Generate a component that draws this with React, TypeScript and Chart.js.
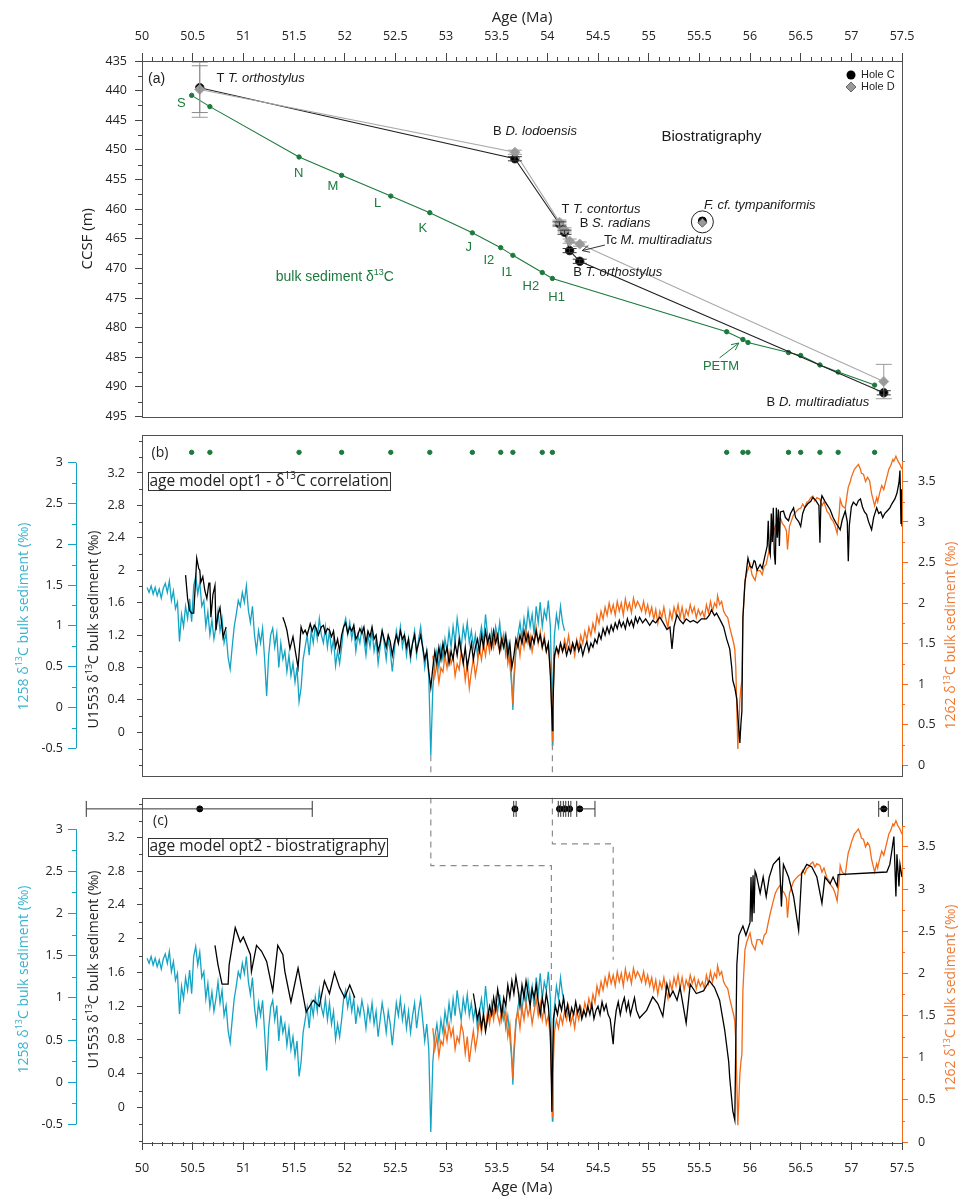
import { useEffect, useRef } from "react";
import { Chart, registerables } from "chart.js";

Chart.register(...registerables);

const SANS = "'Open Sans', 'Noto Sans', sans-serif";
const ARIAL = "'Liberation Sans', Arial, sans-serif";
const FRAME = "#505050";
const CYAN = "#13a4c4";
const CYAN_T = "#3ab3cd";
const ORANGE = "#f36a17";
const ORANGE_T = "#ef7a33";
const GREEN = "#1c7a3d";
const GREY_D = "#9a9a9a";

// ---------------- axis ticks ----------------
const ageTicks = [50, 50.5, 51, 51.5, 52, 52.5, 53, 53.5, 54, 54.5, 55, 55.5, 56, 56.5, 57, 57.5];
const ageMinor: number[] = [];
for (let i = 0; i <= 75; i++) { if (i % 5 !== 0) ageMinor.push(50 + i / 10); }
const depthTicks = [435, 440, 445, 450, 455, 460, 465, 470, 475, 480, 485, 490, 495];
const depthMinor = [437.5, 442.5, 447.5, 452.5, 457.5, 462.5, 467.5, 472.5, 477.5, 482.5, 487.5, 492.5];
const u1553Ticks = [0, 0.4, 0.8, 1.2, 1.6, 2, 2.4, 2.8, 3.2];
const u1553Minor = [-0.4, -0.2, 0.2, 0.6, 1, 1.4, 1.8, 2.2, 2.6, 3, 3.4, 3.6];
const s1258Ticks = [-0.5, 0, 0.5, 1, 1.5, 2, 2.5, 3];
const s1258Minor = [-0.25, 0.25, 0.75, 1.25, 1.75, 2.25, 2.75];
const s1262Ticks = [0, 0.5, 1, 1.5, 2, 2.5, 3, 3.5];
const s1262Minor = [0.25, 0.75, 1.25, 1.75, 2.25, 2.75, 3.25, 3.75];

// ---------------- panel (a) biostratigraphy ----------------
const bioAges = [50.57, 53.68, 54.12, 54.17, 54.22, 54.32, 57.32];
const holeCDepth = [439.5, 451.5, 462.5, 463.9, 467.0, 468.8, 491.0];
const holeDDepth = [439.8, 450.4, 462.2, 463.5, 465.4, 465.9, 489.1];
const holeCDepthRange = [[435.8, 443.7], [451.15, 451.85], [462.15, 462.85], [463.55, 464.25], [466.65, 467.35], [468.45, 469.15], [490.65, 491.35]];
const holeDDepthRange = [[435.2, 444.5], [450.05, 450.75], [461.85, 462.55], [463.15, 463.85], [465.05, 465.75], [465.55, 466.25], [486.2, 492.0]];
const bioAgeErrLo = [1.12, 0.012, 0.012, 0.012, 0.012, 0.03, 0.05];
const bioAgeErrHi = [1.11, 0.012, 0.012, 0.012, 0.012, 0.15, 0.045];
const tympAge = [55.53];
const tympDepthC = [462.0];
const tympDepthD = [462.3];

const tieAges = [50.49, 50.67, 51.55, 51.97, 52.455, 52.84, 53.26, 53.54, 53.66, 53.95, 54.05, 55.77, 55.93, 55.98, 56.38, 56.5, 56.69, 56.87, 57.23];
const tieDepths = [440.8, 442.7, 451.2, 454.3, 457.8, 460.6, 464.0, 466.5, 467.8, 470.7, 471.7, 480.7, 482.0, 482.5, 484.2, 484.7, 486.3, 487.5, 489.7];
const tieNames = ["S", "N", "M", "L", "K", "J", "I2", "I1", "H2", "H1"];
const tieNameAge = [50.389, 51.547, 51.883, 52.324, 52.771, 53.225, 53.423, 53.6, 53.837, 54.091];
const tieNameDepth = [442.18, 453.99, 456.13, 459.04, 463.25, 466.54, 468.68, 470.66, 473.04, 474.95];

const bioLabels = [
  { age: 50.734, depth: 438.0, pre: "T ", name: "T. orthostylus" },
  { age: 53.465, depth: 446.96, pre: "B ", name: "D. lodoensis" },
  { age: 54.14, depth: 460.03, pre: "T ", name: "T. contortus" },
  { age: 54.32, depth: 462.44, pre: "B ", name: "S. radians" },
  { age: 54.558, depth: 465.24, pre: "Tc ", name: "M. multiradiatus" },
  { age: 54.255, depth: 470.74, pre: "B ", name: "T. orthostylus" },
  { age: 55.545, depth: 459.31, pre: "", name: "F. cf. tympaniformis" },
  { age: 56.164, depth: 492.69, pre: "B ", name: "D. multiradiatus" },
];

// ---------------- panels (b),(c) δ13C series ----------------
const site1258: [number, number][] = [
  [50.05,1.47],[50.07,1.41],[50.09,1.49],[50.11,1.39],[50.13,1.47],[50.15,1.37],[50.17,1.45],[50.19,1.34],[50.21,1.46],[50.23,1.52],
  [50.25,1.41],[50.27,1.55],[50.29,1.31],[50.31,1.43],[50.33,1.21],[50.35,1.29],[50.37,0.81],[50.39,1.14],[50.41,0.99],[50.43,1.24],
  [50.45,1.09],[50.47,1.33],[50.49,1.05],[50.51,1.49],[50.53,1.61],[50.55,1.39],[50.57,1.54],[50.59,1.24],[50.61,1.31],[50.63,0.99],
  [50.65,1.17],[50.67,0.89],[50.69,1.07],[50.71,0.84],[50.73,0.99],[50.75,1.19],[50.77,0.94],[50.79,1.09],[50.81,0.79],[50.83,0.91],
  [50.85,0.61],[50.87,0.47],[50.89,0.74],[50.91,0.99],[50.93,1.14],[50.95,1.31],[50.97,1.24],[50.99,1.41],[51.01,1.29],[51.03,1.49],
  [51.05,1.19],[51.07,1.04],[51.09,1.24],[51.11,0.89],[51.13,0.69],[51.15,0.94],[51.17,0.79],[51.19,0.97],[51.21,0.59],[51.23,0.14],
  [51.25,0.64],[51.27,0.89],[51.29,0.97],[51.31,0.74],[51.33,0.91],[51.35,0.49],[51.37,0.79],[51.39,0.59],[51.41,0.69],[51.43,0.44],
  [51.45,0.64],[51.47,0.39],[51.49,0.54],[51.51,0.31],[51.53,0.49],[51.55,0.07],[51.57,0.24],[51.59,0.59],[51.61,0.74],[51.63,0.89],
  [51.65,0.64],[51.67,0.94],[51.69,0.79],[51.71,1.01],[51.73,0.84],[51.75,1.09],[51.77,0.89],[51.79,0.79],[51.81,0.99],[51.83,0.74],
  [51.85,0.94],[51.87,0.69],[51.89,0.84],[51.91,0.51],[51.93,0.69],[51.95,0.54],[51.97,0.74],[51.99,0.99],[52.01,1.09],[52.03,0.89],
  [52.05,1.04],[52.07,0.84],[52.09,0.99],[52.11,0.69],[52.13,0.89],[52.15,0.79],[52.17,0.97],[52.19,0.84],[52.21,0.64],[52.23,0.89],
  [52.25,0.74],[52.27,0.94],[52.29,0.69],[52.31,0.84],[52.33,0.54],[52.35,0.74],[52.37,0.94],[52.39,0.79],[52.41,0.59],[52.43,0.84],
  [52.45,0.69],[52.47,0.44],[52.49,0.69],[52.51,0.94],[52.53,0.79],[52.55,0.99],[52.57,0.74],[52.59,0.89],[52.61,0.64],[52.63,0.84],
  [52.65,0.59],[52.67,0.79],[52.69,0.94],[52.71,0.64],[52.73,0.84],[52.75,0.99],[52.77,0.74],[52.79,0.49],[52.81,0.69],[52.83,0.39],
  [52.85,-0.59],[52.87,0.24],[52.89,0.54],[52.91,0.69],[52.93,0.49],[52.95,0.74],[52.97,0.59],[52.99,0.84],[53.01,0.69],[53.03,0.94],
  [53.05,0.74],[53.07,0.99],[53.09,0.79],[53.11,1.09],[53.13,0.89],[53.15,0.74],[53.17,0.99],[53.19,0.84],[53.21,1.04],[53.23,0.79],
  [53.25,0.94],[53.27,0.74],[53.29,0.89],[53.31,0.64],[53.33,0.84],[53.35,0.99],[53.37,0.79],[53.39,1.14],[53.41,0.89],[53.43,0.74],
  [53.45,0.94],[53.47,0.79],[53.49,0.99],[53.51,0.84],[53.53,1.04],[53.55,0.74],[53.57,0.89],[53.59,0.64],[53.61,0.79],[53.63,0.54],
  [53.65,0.24],[53.66,-0.03],[53.67,0.29],[53.69,0.69],[53.71,0.89],[53.73,1.04],[53.75,0.84],[53.77,1.09],[53.79,0.94],[53.81,1.19],
  [53.83,0.99],[53.85,1.14],[53.87,0.89],[53.89,1.24],[53.91,1.04],[53.93,1.29],[53.95,0.99],[53.97,1.19],[53.99,1.09],[54.01,1.31],
  [54.03,0.99],[54.045,0.19],[54.05,-0.46],[54.055,0.29],[54.07,0.89],[54.09,1.14],[54.11,0.99],[54.13,1.24],[54.15,1.04],[54.17,0.94],
];

const site1262: [number, number][] = [
  [52.87,1.35],[52.89,1.10],[52.91,1.25],[52.93,1.02],[52.95,1.20],[52.97,1.15],[52.99,1.35],[53.01,1.20],[53.03,1.40],[53.05,1.25],
  [53.07,1.35],[53.09,1.10],[53.11,1.25],[53.13,1.18],[53.15,1.40],[53.17,1.30],[53.19,1.05],[53.21,1.25],[53.23,0.95],[53.25,1.15],
  [53.27,1.32],[53.29,1.10],[53.31,1.25],[53.33,1.45],[53.35,1.30],[53.37,1.50],[53.39,1.35],[53.41,1.55],[53.43,1.40],[53.45,1.60],
  [53.47,1.45],[53.49,1.65],[53.51,1.50],[53.53,1.40],[53.55,1.60],[53.57,1.45],[53.59,1.55],[53.61,1.25],[53.63,1.40],[53.65,1.00],
  [53.66,0.75],[53.67,1.10],[53.69,1.45],[53.71,1.55],[53.73,1.35],[53.75,1.60],[53.77,1.45],[53.79,1.65],[53.81,1.50],[53.83,1.60],
  [53.85,1.40],[53.87,1.55],[53.89,1.70],[53.91,1.50],[53.93,1.65],[53.95,1.45],[53.97,1.60],[53.99,1.40],[54.01,1.50],[54.03,1.20],
  [54.045,0.60],[54.05,0.30],[54.055,0.80],[54.07,1.30],[54.09,1.45],[54.11,1.35],[54.13,1.50],[54.15,1.40],[54.17,1.55],[54.19,1.45],
  [54.21,1.60],[54.23,1.40],[54.25,1.50],[54.27,1.35],[54.29,1.55],[54.31,1.45],[54.33,1.60],[54.35,1.50],[54.37,1.65],[54.39,1.55],
  [54.41,1.70],[54.43,1.60],[54.45,1.75],[54.47,1.65],[54.49,1.85],[54.51,1.75],[54.53,1.90],[54.55,1.80],[54.57,1.95],[54.59,1.85],
  [54.61,2.00],[54.63,1.88],[54.65,1.98],[54.67,1.85],[54.69,2.02],[54.71,1.90],[54.73,2.00],[54.75,1.85],[54.77,2.05],[54.79,1.92],
  [54.81,2.00],[54.83,1.88],[54.85,2.06],[54.87,1.95],[54.89,2.02],[54.91,1.97],[54.93,1.90],[54.95,2.02],[54.97,1.88],[54.99,1.98],
  [55.01,1.85],[55.03,1.95],[55.05,1.80],[55.07,1.92],[55.09,1.75],[55.11,1.90],[55.13,1.82],[55.15,1.95],[55.17,1.80],[55.19,1.70],
  [55.21,1.90],[55.23,1.80],[55.25,1.95],[55.27,1.85],[55.29,1.98],[55.31,1.82],[55.33,1.95],[55.35,1.80],[55.37,1.92],[55.39,1.85],
  [55.41,1.98],[55.43,1.88],[55.45,1.95],[55.47,1.82],[55.49,1.92],[55.51,1.85],[55.53,1.90],[55.55,1.82],[55.57,1.98],[55.59,1.88],
  [55.61,2.02],[55.63,1.90],[55.65,2.00],[55.67,1.95],[55.68,2.09],[55.70,1.98],[55.72,2.02],[55.74,1.90],[55.76,1.85],[55.78,1.82],
  [55.80,1.70],[55.82,1.60],[55.84,1.50],[55.85,1.43],[55.86,1.20],[55.87,0.70],[55.88,0.20],[55.89,0.50],[55.90,0.80],[55.91,0.95],
  [55.92,1.04],[55.93,1.80],[55.95,2.28],[55.97,2.38],[56.00,2.48],[56.02,2.35],[56.05,2.28],[56.07,2.40],[56.10,2.40],[56.12,2.35],
  [56.14,2.45],[56.16,2.48],[56.18,2.60],[56.20,2.71],[56.23,2.86],[56.25,2.95],[56.27,3.00],[56.30,3.05],[56.32,2.98],[56.34,2.95],
  [56.36,2.89],[56.37,2.66],[56.39,2.95],[56.41,3.02],[56.43,3.09],[56.45,3.12],[56.48,3.16],[56.50,3.17],[56.52,3.22],[56.54,3.18],
  [56.56,3.24],[56.58,3.26],[56.60,3.30],[56.62,3.32],[56.64,3.26],[56.66,3.30],[56.69,3.28],[56.71,3.20],[56.73,3.25],[56.76,3.13],
  [56.78,3.10],[56.80,3.04],[56.82,3.01],[56.84,2.95],[56.86,2.86],[56.88,3.10],[56.89,3.28],[56.91,3.20],[56.94,3.17],[56.96,3.35],
  [56.97,3.43],[56.99,3.50],[57.00,3.55],[57.03,3.65],[57.05,3.68],[57.07,3.71],[57.09,3.65],[57.10,3.60],[57.12,3.59],[57.14,3.50],
  [57.16,3.55],[57.18,3.51],[57.20,3.35],[57.22,3.25],[57.23,3.20],[57.25,3.30],[57.26,3.25],[57.28,3.36],[57.30,3.45],[57.32,3.40],
  [57.35,3.55],[57.37,3.65],[57.39,3.70],[57.41,3.77],[57.42,3.75],[57.44,3.81],[57.46,3.75],[57.48,3.71],[57.50,3.65],
];

// U1553, age model opt1 (δ13C correlation)
const u1553Opt1A: [number, number][] = [
  [50.43,1.94],[50.45,1.65],[50.47,1.50],[50.49,1.47],[50.51,1.47],[50.53,1.90],[50.54,2.15],[50.56,2.02],[50.57,2.00],[50.58,1.85],
  [50.60,1.92],[50.62,1.75],[50.64,1.65],[50.66,1.84],[50.67,1.84],[50.68,1.42],[50.70,1.70],[50.72,1.81],[50.73,1.26],[50.75,1.45],
  [50.77,1.54],[50.80,1.17],[50.83,1.30],
];
const u1553Opt1B: [number, number][] = [
  [51.39,1.42],[51.41,1.35],[51.43,1.26],[51.46,1.03],[51.49,1.18],[51.52,0.95],[51.54,0.80],[51.57,1.30],[51.59,1.22],[51.61,1.26],
  [51.63,1.20],[51.66,1.34],[51.68,1.25],[51.70,1.32],[51.72,1.28],[51.74,1.20],[51.77,1.30],[51.79,1.32],[51.81,1.22],[51.83,1.28],
  [51.85,1.26],[51.87,1.18],[51.89,1.25],[51.91,1.05],[51.93,1.15],[51.95,1.00],[51.97,1.20],[51.99,1.30],[52.01,1.35],[52.03,1.22],
  [52.05,1.30],[52.07,1.25],[52.09,1.32],[52.11,1.15],[52.13,1.20],[52.15,1.28],[52.17,1.22],[52.19,1.30],[52.21,1.10],[52.23,1.25],
  [52.25,1.18],[52.27,1.30],[52.29,1.15],[52.31,1.20],[52.33,1.00],[52.35,1.10],[52.37,1.25],[52.39,1.15],[52.41,1.05],[52.43,1.20],
  [52.45,1.12],[52.47,0.95],[52.49,1.10],[52.51,1.20],[52.53,1.10],[52.55,1.25],[52.57,1.15],[52.59,1.20],[52.61,1.05],[52.63,1.15],
  [52.65,0.95],[52.67,1.10],[52.69,1.20],[52.71,1.00],[52.73,1.10],[52.75,1.20],[52.77,1.05],[52.79,0.90],[52.81,1.00],[52.83,0.75],
  [52.85,0.55],[52.87,0.80],[52.89,1.00],[52.91,0.85],[52.93,1.05],[52.95,0.90],[52.97,1.10],[52.99,0.95],[53.01,1.05],[53.03,0.85],
  [53.05,1.00],[53.07,0.90],[53.09,1.10],[53.11,0.95],[53.13,1.15],[53.15,1.00],[53.17,0.85],[53.19,1.05],[53.21,0.80],[53.23,0.95],
  [53.25,1.10],[53.27,0.90],[53.29,1.05],[53.31,1.15],[53.33,1.00],[53.35,1.20],[53.37,1.05],[53.39,1.25],[53.41,1.10],[53.43,1.20],
  [53.45,1.05],[53.47,1.25],[53.49,1.10],[53.51,1.20],[53.53,1.00],[53.55,1.15],[53.57,1.05],[53.59,1.20],[53.61,0.95],[53.63,1.10],
  [53.65,0.80],[53.67,0.95],[53.69,1.15],[53.71,1.05],[53.73,1.20],[53.75,1.10],[53.77,1.25],[53.79,1.12],[53.81,1.22],[53.83,1.05],
  [53.85,1.18],[53.87,1.10],[53.89,1.25],[53.91,1.12],[53.93,1.20],[53.95,1.05],[53.97,1.15],[53.99,1.00],[54.01,1.10],[54.03,0.70],
  [54.045,0.20],[54.05,0.02],[54.055,0.30],[54.07,0.95],[54.09,1.05],[54.11,0.98],[54.13,1.10],[54.15,1.00],[54.17,1.08],[54.19,0.95],
  [54.21,1.05],[54.23,0.98],[54.25,1.10],[54.27,1.02],[54.29,1.12],[54.31,1.00],[54.33,1.08],[54.35,0.95],[54.37,1.05],[54.39,1.12],
  [54.41,1.00],[54.43,1.10],[54.45,1.05],[54.47,1.15],[54.49,1.10],[54.51,1.22],[54.53,1.15],[54.55,1.28],[54.57,1.20],[54.59,1.30],
  [54.61,1.22],[54.63,1.32],[54.65,1.25],[54.67,1.35],[54.69,1.28],[54.71,1.38],[54.73,1.30],[54.75,1.36],[54.77,1.28],[54.79,1.40],
  [54.81,1.32],[54.83,1.38],[54.85,1.30],[54.87,1.42],[54.89,1.35],[54.91,1.42],[54.94,1.35],[54.97,1.40],[55.01,1.32],[55.04,1.38],
  [55.07,1.35],[55.11,1.42],[55.14,1.36],[55.18,1.27],[55.21,1.30],[55.23,1.03],[55.25,1.30],[55.28,1.45],[55.31,1.38],[55.34,1.34],
  [55.37,1.40],[55.41,1.36],[55.44,1.38],[55.48,1.35],[55.52,1.40],[55.57,1.40],[55.60,1.45],[55.62,1.51],[55.65,1.44],[55.67,1.47],
  [55.70,1.40],[55.72,1.35],[55.74,1.30],[55.77,1.15],[55.80,1.03],[55.82,0.80],[55.83,0.64],[55.85,0.55],[55.87,0.41],[55.88,0.20],
  [55.90,-0.13],[55.91,0.10],[55.92,0.26],[55.93,1.42],[55.95,1.84],[55.98,2.15],[56.00,2.05],[56.02,2.03],[56.04,2.12],[56.05,2.11],
  [56.07,2.00],[56.10,2.07],[56.12,2.02],[56.15,2.19],[56.17,2.30],[56.18,2.61],[56.19,2.25],[56.20,2.19],[56.21,2.70],[56.22,2.35],
  [56.23,2.77],[56.24,2.20],[56.25,2.07],[56.26,2.77],[56.27,2.40],[56.28,2.75],[56.29,2.30],[56.30,2.72],[56.33,2.73],[56.35,2.65],
  [56.38,2.61],[56.40,2.70],[56.43,2.77],[56.45,2.65],[56.48,2.60],[56.50,2.54],[56.52,2.70],[56.54,2.77],[56.57,2.82],[56.60,2.85],
  [56.62,2.90],[56.65,2.86],[56.68,2.80],[56.69,2.34],[56.70,2.85],[56.71,2.92],[56.74,2.85],[56.76,2.81],[56.79,2.75],[56.82,2.65],
  [56.85,2.58],[56.89,2.50],[56.91,2.62],[56.94,2.73],[56.96,2.60],[56.97,2.11],[56.98,2.55],[57.00,2.78],[57.02,2.84],[57.05,2.80],
  [57.07,2.86],[57.09,2.88],[57.11,2.78],[57.13,2.72],[57.15,2.69],[57.17,2.60],[57.20,2.50],[57.22,2.65],[57.25,2.77],[57.27,2.70],
  [57.29,2.72],[57.31,2.65],[57.33,2.70],[57.36,2.74],[57.38,2.77],[57.40,2.82],[57.43,2.88],[57.45,2.95],[57.47,3.08],[57.48,3.23],
  [57.49,2.57],[57.495,3.0],[57.50,2.54],
];

// U1553, age model opt2 (biostratigraphy)
const u1553Opt2A: [number, number][] = [
  [50.72,1.92],[50.75,1.69],[50.79,1.46],[50.85,1.46],[50.86,1.69],[50.92,2.13],[50.97,1.96],[51.00,2.02],[51.07,1.81],[51.08,1.61],
  [51.13,1.92],[51.18,1.85],[51.23,1.73],[51.29,1.38],[51.34,1.92],[51.39,1.81],[51.41,1.61],[51.47,1.25],[51.54,1.65],[51.62,1.13],
  [51.69,1.27],[51.75,1.20],[51.80,1.50],[51.85,1.35],[51.90,1.60],[51.95,1.42],[52.00,1.30],[52.05,1.45],[52.10,1.30],
];
const u1553Opt2B: [number, number][] = [
  [53.27,1.35],[53.29,1.20],[53.31,1.05],[53.33,1.15],[53.35,0.95],[53.37,1.10],[53.39,0.90],[53.41,1.05],[53.43,1.20],[53.45,1.10],
  [53.47,1.30],[53.49,1.15],[53.51,1.40],[53.53,1.25],[53.55,1.10],[53.57,1.30],[53.59,1.20],[53.61,1.45],[53.63,1.30],[53.65,1.50],
  [53.67,1.35],[53.69,1.55],[53.71,1.40],[53.73,1.20],[53.75,1.45],[53.77,1.30],[53.79,1.50],[53.81,1.35],[53.83,1.20],[53.85,1.40],
  [53.87,1.30],[53.89,1.45],[53.91,1.25],[53.93,1.10],[53.95,1.30],[53.97,1.15],[53.99,1.35],[54.01,1.20],[54.03,0.90],[54.04,0.30],
  [54.045,-0.05],[54.05,0.40],[54.06,1.05],[54.08,1.20],[54.10,1.10],[54.12,1.25],[54.14,1.15],[54.16,1.30],[54.18,1.10],[54.20,1.22],
  [54.22,1.05],[54.24,1.18],[54.26,1.10],[54.28,1.25],[54.30,1.12],[54.32,1.20],[54.34,1.05],[54.36,1.15],[54.38,1.08],[54.40,1.20],
  [54.42,1.10],[54.44,1.22],[54.46,1.05],[54.48,1.15],[54.50,1.20],[54.52,1.10],[54.54,1.25],[54.56,1.15],[54.58,1.22],[54.60,1.10],
  [54.62,1.05],[54.64,0.85],[54.65,0.75],[54.66,0.95],[54.68,1.15],[54.70,1.25],[54.72,1.10],[54.74,1.22],[54.76,1.30],[54.78,1.15],
  [54.80,1.25],[54.82,1.10],[54.84,1.20],[54.86,1.30],[54.88,1.15],[54.91,1.06],[54.98,1.15],[55.04,1.31],[55.09,1.23],[55.14,1.08],
  [55.18,1.46],[55.21,1.31],[55.24,1.38],[55.28,1.27],[55.31,1.42],[55.37,1.00],[55.41,1.46],[55.47,1.35],[55.54,1.38],[55.60,1.50],
  [55.65,1.42],[55.70,1.27],[55.75,0.92],[55.79,0.54],[55.80,0.35],[55.83,-0.04],[55.85,-0.15],[55.87,1.69],[55.89,2.04],[55.93,2.15],
  [55.96,2.04],[56.00,2.19],[56.01,2.73],[56.02,2.20],[56.03,2.75],[56.04,2.30],[56.05,2.80],[56.06,2.77],[56.10,2.54],[56.13,2.73],
  [56.16,2.50],[56.19,2.73],[56.23,2.88],[56.26,2.92],[56.29,2.96],[56.31,2.38],[56.33,2.88],[56.38,2.73],[56.43,2.50],[56.48,2.10],
  [56.51,2.77],[56.56,2.88],[56.61,2.85],[56.66,2.73],[56.71,2.42],[56.74,2.73],[56.79,2.65],[56.82,2.73],[56.86,2.62],[56.87,2.76],
  [57.35,2.79],[57.38,2.88],[57.42,3.21],[57.44,2.50],[57.45,3.00],[57.47,2.62],[57.48,2.88],[57.50,2.73],
];

// dashed tie lines between panels (b) and (c)
const tieLineB1: [number, number][] = [[52.85, -0.283], [52.85, -0.533]];
const tieLineB2: [number, number][] = [[54.05, -0.147], [54.05, -0.533]];
const tieLineC1: [number, number][] = [[52.85, 3.673], [52.85, 2.865], [54.04, 2.865], [54.04, 1.381]];
const tieLineC2: [number, number][] = [[54.05, 3.673], [54.05, 3.123], [54.65, 3.123], [54.65, 1.75]];

const STRIP_B = 3.455; // level of tie-point dots in (b)
const STRIP_C = 3.538; // level of age-error bars in (c)

// ---------------- helpers ----------------
type Seg = { t: string; sup?: boolean; it?: boolean };
const fmt = (v: number) => String(Math.round(v * 100) / 100);

function drawRich(ctx: any, segs: Seg[], x: number, y: number, o: { size: number; family: string; color: string; align?: string; rotate?: number }) {
  ctx.save();
  ctx.translate(x, y);
  if (o.rotate) ctx.rotate(o.rotate);
  const fontFor = (s: Seg) => `${s.it ? "italic " : ""}${s.sup ? Math.round(o.size * 0.62) : o.size}px ${o.family}`;
  let total = 0;
  const widths = segs.map((s) => { ctx.font = fontFor(s); const w = ctx.measureText(s.t).width; total += w; return w; });
  let cx = o.align === "center" ? -total / 2 : 0;
  ctx.fillStyle = o.color;
  ctx.textBaseline = "middle";
  ctx.textAlign = "left";
  segs.forEach((s, i) => { ctx.font = fontFor(s); ctx.fillText(s.t, cx, s.sup ? -o.size * 0.3 : 0); cx += widths[i]; });
  ctx.restore();
  return total;
}

function seg(ctx: any, x1: number, y1: number, x2: number, y2: number) {
  ctx.beginPath(); ctx.moveTo(x1, y1); ctx.lineTo(x2, y2); ctx.stroke();
}

function minorY(ctx: any, s: any, vals: number[], len: number, color: string, side: string) {
  ctx.save(); ctx.strokeStyle = color; ctx.lineWidth = 1;
  vals.forEach((v) => {
    if (v < Math.min(s.min, s.max) - 1e-9 || v > Math.max(s.min, s.max) + 1e-9) return;
    const p = Math.round(s.getPixelForValue(v)) + 0.5;
    if (side === "left") seg(ctx, s.right - len, p, s.right, p); else seg(ctx, s.left, p, s.left + len, p);
  });
  ctx.restore();
}
function minorX(ctx: any, s: any, vals: number[], len: number, color: string, side: string) {
  ctx.save(); ctx.strokeStyle = color; ctx.lineWidth = 1;
  vals.forEach((v) => {
    const p = Math.round(s.getPixelForValue(v)) + 0.5;
    if (side === "top") seg(ctx, p, s.bottom - len, p, s.bottom); else seg(ctx, p, s.top, p, s.top + len);
  });
  ctx.restore();
}
function frame(ctx: any, ca: any) {
  ctx.save(); ctx.strokeStyle = FRAME; ctx.lineWidth = 1;
  ctx.strokeRect(Math.round(ca.left) + 0.5, Math.round(ca.top) + 0.5, Math.round(ca.right - ca.left), Math.round(ca.bottom - ca.top));
  ctx.restore();
}
function arrow(ctx: any, x1: number, y1: number, x2: number, y2: number, color: string) {
  ctx.save(); ctx.strokeStyle = color; ctx.lineWidth = 1;
  seg(ctx, x1, y1, x2, y2);
  const a = Math.atan2(y2 - y1, x2 - x1), L = 8;
  seg(ctx, x2, y2, x2 - L * Math.cos(a - 0.45), y2 - L * Math.sin(a - 0.45));
  seg(ctx, x2, y2, x2 - L * Math.cos(a + 0.45), y2 - L * Math.sin(a + 0.45));
  ctx.restore();
}
function vbar(ctx: any, x: number, y1: number, y2: number, hw: number) {
  seg(ctx, x, y1, x, y2); seg(ctx, x - hw, y1, x + hw, y1); seg(ctx, x - hw, y2, x + hw, y2);
}

const tickFont = { family: SANS, size: 12.5 };
function fixed(values: number[]) { return (s: any) => { s.ticks = values.map((v) => ({ value: v })); }; }

function yAxis(o: any) {
  return {
    type: "linear", position: o.position, min: o.min, max: o.max, reverse: !!o.reverse, weight: o.weight || 0,
    afterBuildTicks: fixed(o.ticks),
    afterFit: (s: any) => { s.width = o.width; },
    ticks: { callback: (v: number) => fmt(v), font: tickFont, color: "#222", padding: o.pad, autoSkip: false },
    grid: { drawOnChartArea: false, drawTicks: true, tickLength: o.tick, color: o.color, lineWidth: 1 },
    border: { display: false },
  };
}
function xAxis(o: any) {
  return {
    type: "linear", position: o.position, min: 50, max: 57.5, display: o.display !== false,
    afterBuildTicks: fixed(ageTicks),
    afterFit: (s: any) => { s.height = o.height; },
    ticks: { callback: (v: number) => fmt(v), font: tickFont, color: "#222", padding: o.pad, autoSkip: false, maxRotation: 0 },
    grid: { drawOnChartArea: false, drawTicks: true, tickLength: 8, color: "#444", lineWidth: 1 },
    border: { display: false },
  };
}
function line(pairs: [number, number][], color: string, yAxisID: string, width = 1.25, extra: any = {}) {
  return { data: pairs.map(([x, y]) => ({ x, y })), showLine: true, borderColor: color, backgroundColor: color, borderWidth: width, pointRadius: 0, yAxisID, xAxisID: "x", tension: 0, ...extra };
}
function points(xs: number[], ys: number[], o: any) {
  return { data: xs.map((x, i) => ({ x, y: ys[i] })), showLine: false, xAxisID: "x", pointRadius: 4, pointBorderWidth: 1, ...o };
}

function build(canvas: HTMLCanvasElement, datasets: any[], scales: any, padding: any, plugin: any) {
  return new Chart(canvas, {
    type: "scatter",
    data: { datasets },
    options: {
      responsive: false, maintainAspectRatio: false, animation: false, devicePixelRatio: 1, events: [],
      layout: { padding },
      plugins: { legend: { display: false }, tooltip: { enabled: false } },
      scales,
    } as any,
    plugins: [plugin],
  } as any);
}

const title1258: Seg[] = [{ t: "1258 δ" }, { t: "13", sup: true }, { t: "C bulk sediment (‰)" }];
const titleU1553: Seg[] = [{ t: "U1553 δ" }, { t: "13", sup: true }, { t: "C bulk sediment (‰)" }];
const title1262: Seg[] = [{ t: "1262 δ" }, { t: "13", sup: true }, { t: "C bulk sediment (‰)" }];

// ---------------- panel (a) ----------------
function chartA(canvas: HTMLCanvasElement) {
  const plugin = {
    id: "panelA",
    afterDatasetsDraw(chart: any) {
      const { ctx } = chart; const x = chart.scales.x, y = chart.scales.y;
      ctx.save(); ctx.lineWidth = 1;
      holeDDepthRange.forEach(([lo, hi], i) => {
        const big = hi - lo > 2;
        ctx.strokeStyle = GREY_D;
        vbar(ctx, x.getPixelForValue(bioAges[i]), y.getPixelForValue(lo), y.getPixelForValue(hi), big ? 8 : 7);
      });
      holeCDepthRange.forEach(([lo, hi], i) => {
        const big = hi - lo > 2;
        ctx.strokeStyle = big ? "#8a8a8a" : "#333";
        vbar(ctx, x.getPixelForValue(bioAges[i]), y.getPixelForValue(lo), y.getPixelForValue(hi), big ? 8 : 7);
      });
      // ring around F. cf. tympaniformis
      ctx.strokeStyle = "#222";
      ctx.beginPath();
      ctx.arc(x.getPixelForValue(tympAge[0]), y.getPixelForValue((tympDepthC[0] + tympDepthD[0]) / 2), 11, 0, Math.PI * 2);
      ctx.stroke();
      ctx.restore();
    },
    afterDraw(chart: any) {
      const { ctx, chartArea: ca } = chart; const x = chart.scales.x, y = chart.scales.y;
      frame(ctx, ca);
      minorX(ctx, x, ageMinor, 4, "#444", "top");
      minorY(ctx, y, depthMinor, 4, "#444", "left");
      drawRich(ctx, [{ t: "Age (Ma)" }], (ca.left + ca.right) / 2, 18, { size: 15, family: SANS, color: "#222", align: "center" });
      drawRich(ctx, [{ t: "CCSF (m)" }], 88, (ca.top + ca.bottom) / 2, { size: 15, family: SANS, color: "#222", align: "center", rotate: -Math.PI / 2 });
      drawRich(ctx, [{ t: "(a)" }], ca.left + 6, ca.top + 18, { size: 14, family: ARIAL, color: "#222" });
      bioLabels.forEach((l) => {
        const segs: Seg[] = [];
        if (l.pre) segs.push({ t: l.pre });
        segs.push({ t: l.name, it: true });
        drawRich(ctx, segs, x.getPixelForValue(l.age), y.getPixelForValue(l.depth), { size: 13, family: ARIAL, color: "#1a1a1a" });
      });
      drawRich(ctx, [{ t: "Biostratigraphy" }], x.getPixelForValue(55.127), y.getPixelForValue(447.78), { size: 15, family: ARIAL, color: "#1a1a1a" });
      tieNames.forEach((n, i) => {
        drawRich(ctx, [{ t: n }], x.getPixelForValue(tieNameAge[i]), y.getPixelForValue(tieNameDepth[i]), { size: 13, family: ARIAL, color: GREEN, align: "center" });
      });
      drawRich(ctx, [{ t: "bulk sediment δ" }, { t: "13", sup: true }, { t: "C" }], x.getPixelForValue(51.32), y.getPixelForValue(471.4), { size: 14, family: ARIAL, color: GREEN });
      drawRich(ctx, [{ t: "PETM" }], x.getPixelForValue(55.535), y.getPixelForValue(486.6), { size: 13, family: ARIAL, color: GREEN });
      arrow(ctx, x.getPixelForValue(55.7), y.getPixelForValue(485.1), x.getPixelForValue(55.89), y.getPixelForValue(482.6), GREEN);
      arrow(ctx, x.getPixelForValue(54.568), y.getPixelForValue(466.06), x.getPixelForValue(54.344), y.getPixelForValue(467.0), "#333");
      // legend
      const lx = ca.right - 51, ly1 = ca.top + 14, ly2 = ca.top + 26;
      ctx.save();
      ctx.fillStyle = "#000"; ctx.beginPath(); ctx.arc(lx, ly1, 4.5, 0, Math.PI * 2); ctx.fill();
      ctx.fillStyle = GREY_D; ctx.strokeStyle = "#666"; ctx.beginPath();
      ctx.moveTo(lx, ly2 - 5); ctx.lineTo(lx + 5, ly2); ctx.lineTo(lx, ly2 + 5); ctx.lineTo(lx - 5, ly2); ctx.closePath(); ctx.fill(); ctx.stroke();
      ctx.restore();
      drawRich(ctx, [{ t: "Hole C" }], lx + 10, ly1, { size: 11, family: ARIAL, color: "#222" });
      drawRich(ctx, [{ t: "Hole D" }], lx + 10, ly2, { size: 11, family: ARIAL, color: "#222" });
    },
  };
  const datasets = [
    points(tympAge, tympDepthD, { yAxisID: "y", pointStyle: "rectRot", pointRadius: 4.5, backgroundColor: GREY_D, borderColor: "#666" }),
    points(tympAge, tympDepthC, { yAxisID: "y", pointStyle: "circle", pointRadius: 4, backgroundColor: "#000", borderColor: "#000" }),
    { ...points(bioAges, holeDDepth, { yAxisID: "y", pointStyle: "rectRot", pointRadius: 5, backgroundColor: GREY_D, borderColor: "#666" }), showLine: true, borderWidth: 1.1 },
    { ...points(bioAges, holeCDepth, { yAxisID: "y", pointStyle: "circle", pointRadius: 4.2, backgroundColor: "#000", borderColor: "#111" }), showLine: true, borderWidth: 1.1 },
    { ...points(tieAges, tieDepths, { yAxisID: "y", pointStyle: "circle", pointRadius: 2.2, backgroundColor: GREEN, borderColor: GREEN }), showLine: true, borderWidth: 1.1 },
  ];
  // line colours for the two holes
  datasets[2].borderColor = "#a8a8a8";
  datasets[3].borderColor = "#222";
  const scales = {
    x: xAxis({ position: "top", height: 61, pad: 9.5 }),
    y: yAxis({ position: "left", min: 435, max: 495, reverse: true, ticks: depthTicks, width: 142, pad: 8, tick: 7, color: "#444" }),
  };
  return build(canvas, datasets, scales, { left: 0, right: 66, top: 0, bottom: 7 }, plugin);
}

// ---------------- panels (b) & (c) ----------------
function chartBC(canvas: HTMLCanvasElement, kind: string) {
  const isB = kind === "b";
  const plugin = {
    id: "panel" + kind,
    afterDatasetsDraw(chart: any) {
      if (isB) return;
      const { ctx } = chart; const x = chart.scales.x, yu = chart.scales.yU;
      const py = yu.getPixelForValue(STRIP_C);
      ctx.save(); ctx.strokeStyle = "#333"; ctx.lineWidth = 1;
      bioAges.forEach((a, i) => {
        const x1 = x.getPixelForValue(a - bioAgeErrLo[i]), x2 = x.getPixelForValue(a + bioAgeErrHi[i]);
        seg(ctx, x1, py, x2, py); seg(ctx, x1, py - 8, x1, py + 8); seg(ctx, x2, py - 8, x2, py + 8);
      });
      ctx.restore();
    },
    afterDraw(chart: any) {
      const { ctx, chartArea: ca } = chart;
      const x = chart.scales.x, su = chart.scales.yU, sc = chart.scales.yCy, so = chart.scales.yOr;
      frame(ctx, ca);
      ctx.save(); ctx.lineWidth = 1;
      ctx.strokeStyle = CYAN;
      seg(ctx, Math.round(sc.right) + 0.5, sc.getPixelForValue(3), Math.round(sc.right) + 0.5, sc.getPixelForValue(-0.5));
      ctx.strokeStyle = ORANGE;
      seg(ctx, Math.round(so.left) + 0.5, so.getPixelForValue(0), Math.round(so.left) + 0.5, so.getPixelForValue(3.75));
      ctx.restore();
      minorY(ctx, sc, s1258Minor, 4, CYAN, "left");
      minorY(ctx, so, s1262Minor, 3, ORANGE, "right");
      minorY(ctx, su, u1553Minor, 3, "#444", "left");
      if (!isB) minorX(ctx, x, ageMinor, 4, "#444", "bottom");
      drawRich(ctx, title1258, 24, ca.top + 182, { size: 14, family: SANS, color: CYAN_T, align: "center", rotate: -Math.PI / 2 });
      drawRich(ctx, titleU1553, 94, ca.top + (isB ? 195 : 172), { size: 14, family: SANS, color: "#222", align: "center", rotate: -Math.PI / 2 });
      drawRich(ctx, title1262, 951.5, ca.top + 201, { size: 14, family: SANS, color: ORANGE_T, align: "center", rotate: -Math.PI / 2 });
      if (!isB) drawRich(ctx, [{ t: "Age (Ma)" }], (ca.left + ca.right) / 2, ca.bottom + 46, { size: 15, family: SANS, color: "#222", align: "center" });
      drawRich(ctx, [{ t: isB ? "(b)" : "(c)" }], ca.left + (isB ? 9.5 : 11), ca.top + (isB ? 19 : 23.4), { size: 14, family: SANS, color: "#222" });
      const boxTop = ca.top + (isB ? 37.3 : 40), boxH = 17.8, bx = ca.left + 6;
      const segs: Seg[] = isB
        ? [{ t: "age model opt1 - δ" }, { t: "13", sup: true }, { t: "C correlation" }]
        : [{ t: "age model opt2 - biostratigraphy" }];
      const w = drawRich(ctx, segs, bx + 1.5, boxTop + boxH / 2 + 0.5, { size: 15.5, family: SANS, color: "#222" });
      ctx.save(); ctx.strokeStyle = "#333"; ctx.lineWidth = 1;
      ctx.strokeRect(Math.round(bx) + 0.5, Math.round(boxTop) + 0.5, Math.round(w + 3), Math.round(boxH));
      ctx.restore();
    },
  };
  const dash = { borderColor: "#8c8c8c", borderDash: [6, 5], borderWidth: 1.2 };
  const datasets: any[] = [];
  if (isB) {
    datasets.push(line(tieLineB1, "#8c8c8c", "yU", 1.2, dash));
    datasets.push(line(tieLineB2, "#8c8c8c", "yU", 1.2, dash));
    datasets.push(points(tieAges, tieAges.map(() => STRIP_B), { yAxisID: "yU", pointRadius: 2.2, backgroundColor: GREEN, borderColor: GREEN }));
    datasets.push(line(u1553Opt1A, "#000", "yU", 1.3));
    datasets.push(line(u1553Opt1B, "#000", "yU", 1.3));
  } else {
    datasets.push(line(tieLineC1, "#8c8c8c", "yU", 1.2, dash));
    datasets.push(line(tieLineC2, "#8c8c8c", "yU", 1.2, dash));
    datasets.push(points(bioAges, bioAges.map(() => STRIP_C), { yAxisID: "yU", pointRadius: 3, backgroundColor: "#000", borderColor: "#000", clip: false }));
    datasets.push(line(u1553Opt2A, "#000", "yU", 1.3));
    datasets.push(line(u1553Opt2B, "#000", "yU", 1.3));
  }
  datasets.push(line(site1262, ORANGE, "yOr", 1.3));
  datasets.push(line(site1258, CYAN, "yCy", 1.3));

  const scales = {
    x: isB ? xAxis({ position: "bottom", height: 0, pad: 0, display: false }) : xAxis({ position: "bottom", height: 55, pad: 11 }),
    yU: yAxis({ position: "left", weight: 0, min: isB ? -0.533 : -0.41, max: isB ? 3.675 : 3.673, ticks: u1553Ticks, width: 66, pad: 12, tick: 5, color: "#444" }),
    yCy: yAxis({ position: "left", weight: 1, min: isB ? -0.834 : -0.7075, max: isB ? 3.345 : 3.374, ticks: s1258Ticks, width: 76, pad: 5, tick: 8, color: CYAN }),
    yOr: yAxis({ position: "right", min: isB ? -0.127 : 0, max: isB ? 4.079 : 4.085, ticks: s1262Ticks, width: 66, pad: 10, tick: 6, color: ORANGE }),
  };
  return build(canvas, datasets, scales, isB ? { left: 0, right: 0, top: 10, bottom: 7 } : { left: 0, right: 0, top: 10, bottom: 0 }, plugin);
}

export default function App() {
  const refA = useRef<HTMLCanvasElement>(null);
  const refB = useRef<HTMLCanvasElement>(null);
  const refC = useRef<HTMLCanvasElement>(null);
  useEffect(() => {
    Chart.defaults.font.family = SANS;
    const charts = [chartA(refA.current!), chartBC(refB.current!, "b"), chartBC(refC.current!, "c")];
    return () => charts.forEach((c) => c.destroy());
  }, []);
  const cs = (top: number, h: number) => ({ position: "absolute" as const, left: 0, top, width: 968, height: h });
  return (
    <div style={{ position: "absolute", left: 0, top: 0, width: 968, height: 1197, background: "#fff", overflow: "hidden" }}>
      <canvas ref={refA} width={968} height={432} style={cs(0, 432)} />
      <canvas ref={refB} width={968} height={380} style={cs(415, 380)} />
      <canvas ref={refC} width={968} height={419} style={cs(778, 419)} />
    </div>
  );
}
